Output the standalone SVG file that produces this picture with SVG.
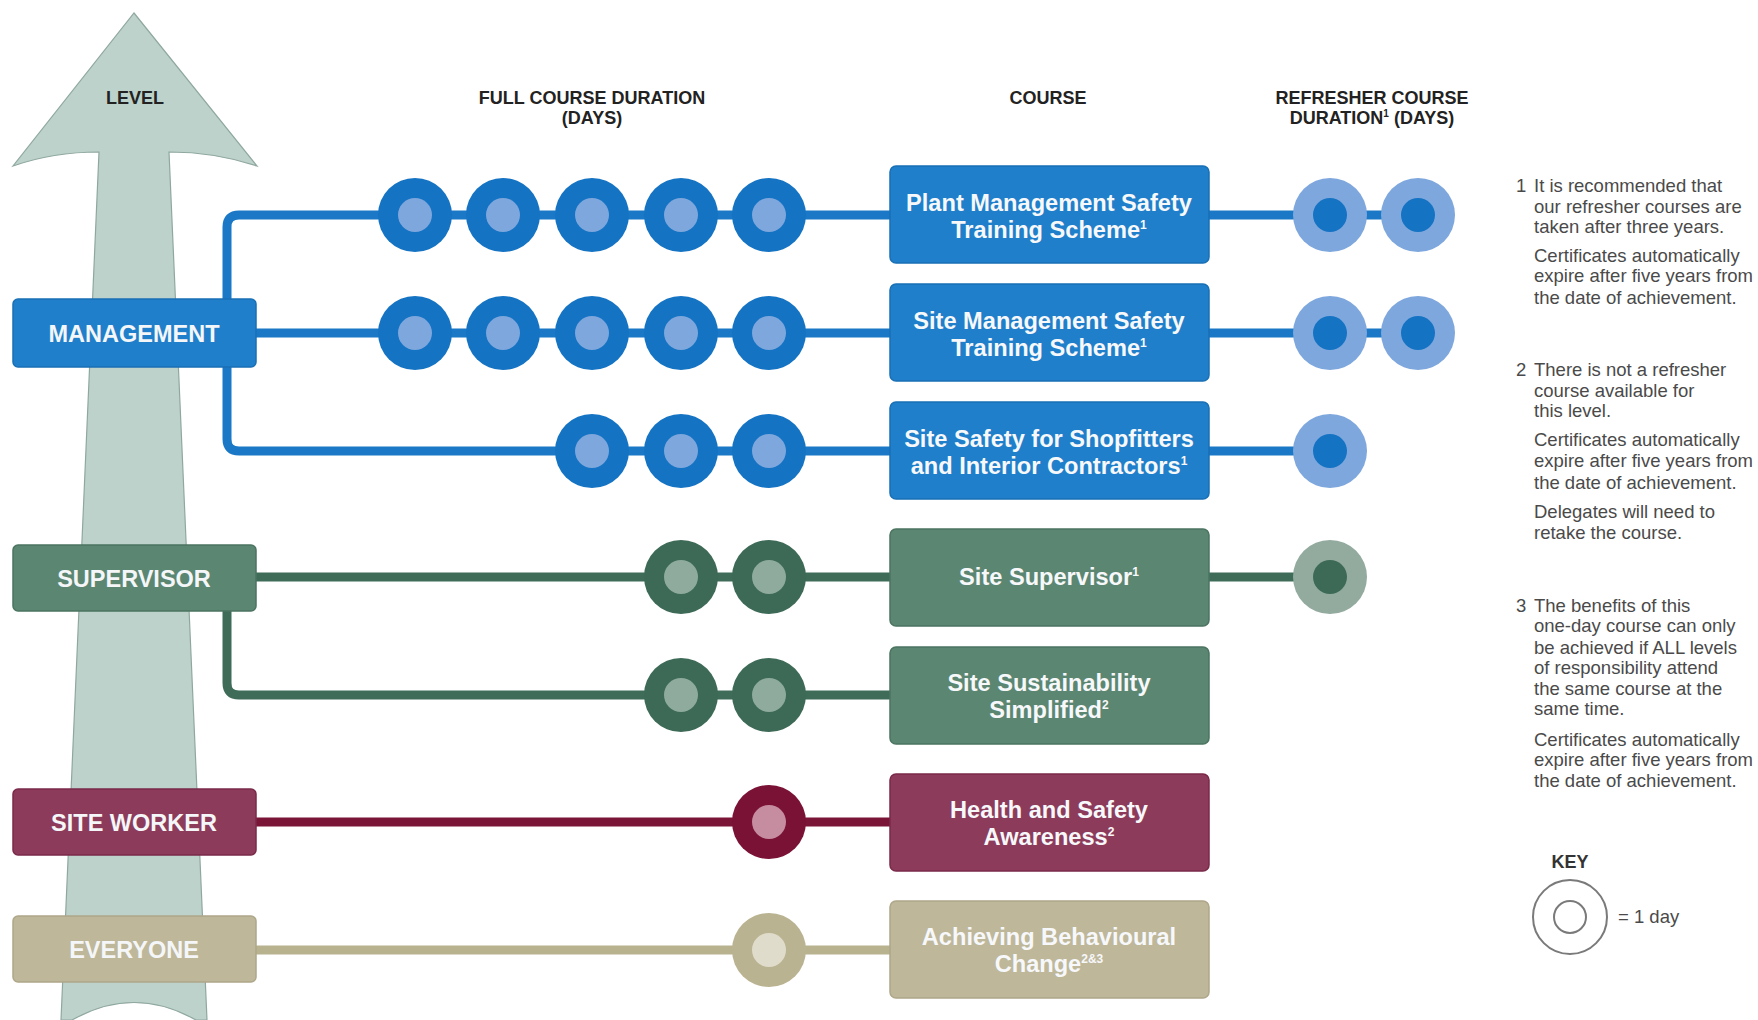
<svg xmlns="http://www.w3.org/2000/svg" xmlns:xlink="http://www.w3.org/1999/xlink" width="1758" height="1020" viewBox="0 0 1758 1020">
<style>
  text{font-family:"Liberation Sans",Arial,Helvetica,sans-serif}
  .hdr{font-weight:bold;font-size:18px;fill:#222;text-anchor:middle}
  .lvl{font-weight:bold;font-size:23.5px;fill:#f4f6f8;text-anchor:middle}
  .crs{font-weight:bold;font-size:23.6px;fill:#f7f8fa;text-anchor:middle}
  .sup{font-size:12px}
  .note{font-size:18.5px;fill:#4a4a4a}
  .key{font-weight:bold;font-size:18px;fill:#333;text-anchor:middle}
  .ln{fill:none;stroke-width:9;stroke-linejoin:round;stroke-linecap:butt}
  .blue{stroke:#1b78c6}
  .green{stroke:#3f6c58}
  .maroon{stroke:#7b1538}
  .beige{stroke:#b9b28f}
</style>
<defs>
  <g id="dBlue"><circle r="37" fill="#1573c3"/><circle r="17" fill="#7ea7dd"/></g>
  <g id="rBlue"><circle r="37" fill="#7ea7dd"/><circle r="17" fill="#1573c3"/></g>
  <g id="dGreen"><circle r="37" fill="#3d6a56"/><circle r="17" fill="#8eab9e"/></g>
  <g id="rGreen"><circle r="37" fill="#93ab9f"/><circle r="17" fill="#3d6a56"/></g>
  <g id="dMaroon"><circle r="37" fill="#7a1235"/><circle r="17" fill="#c68c9f"/></g>
  <g id="dBeige"><circle r="37" fill="#bab391"/><circle r="17" fill="#e0dccb"/></g>
</defs>
<rect width="1758" height="1020" fill="#ffffff"/>

<!-- level arrow -->
<g id="level-arrow">
  <path d="M134 13 L257 166 Q215 152 169 152 L207 1020 L196 1020 Q134 985 72 1020 L61 1020 L99 152 Q53 152 13 166 Z" fill="#bdd2ca" stroke="#8fa89f" stroke-width="1.2"/>
</g>

<!-- headers -->
<g id="headers">
  <text class="hdr" x="135" y="104">LEVEL</text>
  <text class="hdr" x="592" y="104">FULL COURSE DURATION</text>
  <text class="hdr" x="592" y="124">(DAYS)</text>
  <text class="hdr" x="1048" y="104">COURSE</text>
  <text class="hdr" x="1372" y="104">REFRESHER COURSE</text>
  <text class="hdr" x="1372" y="124">DURATION<tspan font-size="10" dy="-7">1</tspan><tspan dy="7"> (DAYS)</tspan></text>
</g>

<!-- connectors -->
<g id="connectors">
  <path class="ln blue" d="M1418 215 H239 Q227 215 227 227 V439 Q227 451 239 451 H1330"/>
  <path class="ln blue" d="M250 333 H1418"/>
  <path class="ln green" d="M250 577 H1330"/>
  <path class="ln green" d="M227 605 V683 Q227 695 239 695 H895"/>
  <path class="ln maroon" d="M250 822 H895"/>
  <path class="ln beige" d="M250 950 H895"/>
</g>

<!-- day markers -->
<g id="days-plant">
  <use xlink:href="#dBlue" x="415" y="215"/><use xlink:href="#dBlue" x="503" y="215"/><use xlink:href="#dBlue" x="592" y="215"/><use xlink:href="#dBlue" x="681" y="215"/><use xlink:href="#dBlue" x="769" y="215"/>
  <use xlink:href="#rBlue" x="1330" y="215"/><use xlink:href="#rBlue" x="1418" y="215"/>
</g>
<g id="days-sitemgmt">
  <use xlink:href="#dBlue" x="415" y="333"/><use xlink:href="#dBlue" x="503" y="333"/><use xlink:href="#dBlue" x="592" y="333"/><use xlink:href="#dBlue" x="681" y="333"/><use xlink:href="#dBlue" x="769" y="333"/>
  <use xlink:href="#rBlue" x="1330" y="333"/><use xlink:href="#rBlue" x="1418" y="333"/>
</g>
<g id="days-shopfitters">
  <use xlink:href="#dBlue" x="592" y="451"/><use xlink:href="#dBlue" x="681" y="451"/><use xlink:href="#dBlue" x="769" y="451"/>
  <use xlink:href="#rBlue" x="1330" y="451"/>
</g>
<g id="days-supervisor">
  <use xlink:href="#dGreen" x="681" y="577"/><use xlink:href="#dGreen" x="769" y="577"/>
  <use xlink:href="#rGreen" x="1330" y="577"/>
</g>
<g id="days-sustainability">
  <use xlink:href="#dGreen" x="681" y="695"/><use xlink:href="#dGreen" x="769" y="695"/>
</g>
<g id="days-hs">
  <use xlink:href="#dMaroon" x="769" y="822"/>
</g>
<g id="days-abc">
  <use xlink:href="#dBeige" x="769" y="950"/>
</g>

<!-- level boxes -->
<g id="lvl-management">
  <rect x="13" y="299" width="243" height="68" rx="5" fill="#1f7fca" stroke="#1a70b5" stroke-width="1.5"/>
  <text class="lvl" x="134" y="341.5">MANAGEMENT</text>
</g>
<g id="lvl-supervisor">
  <rect x="13" y="545" width="243" height="66" rx="5" fill="#5b8672" stroke="#4b7461" stroke-width="1.5"/>
  <text class="lvl" x="134" y="586.5">SUPERVISOR</text>
</g>
<g id="lvl-siteworker">
  <rect x="13" y="789" width="243" height="66" rx="5" fill="#8d3b5b" stroke="#7a2a49" stroke-width="1.5"/>
  <text class="lvl" x="134" y="830.5">SITE WORKER</text>
</g>
<g id="lvl-everyone">
  <rect x="13" y="916" width="243" height="66" rx="5" fill="#beb79a" stroke="#aea789" stroke-width="1.5"/>
  <text class="lvl" x="134" y="957.5" fill="#f6f3e8">EVERYONE</text>
</g>

<!-- course boxes -->
<g id="crs-plant">
  <rect x="890" y="166" width="319" height="97" rx="6" fill="#1f7fca" stroke="#1a70b5" stroke-width="1.5"/>
  <text class="crs" x="1049" y="211">Plant Management Safety</text>
  <text class="crs" x="1049" y="238">Training Scheme<tspan class="sup" dy="-9">1</tspan></text>
</g>
<g id="crs-sitemgmt">
  <rect x="890" y="284" width="319" height="97" rx="6" fill="#1f7fca" stroke="#1a70b5" stroke-width="1.5"/>
  <text class="crs" x="1049" y="329">Site Management Safety</text>
  <text class="crs" x="1049" y="356">Training Scheme<tspan class="sup" dy="-9">1</tspan></text>
</g>
<g id="crs-shopfitters">
  <rect x="890" y="402" width="319" height="97" rx="6" fill="#1f7fca" stroke="#1a70b5" stroke-width="1.5"/>
  <text class="crs" x="1049" y="447">Site Safety for Shopfitters</text>
  <text class="crs" x="1049" y="474">and Interior Contractors<tspan class="sup" dy="-9">1</tspan></text>
</g>
<g id="crs-supervisor">
  <rect x="890" y="529" width="319" height="97" rx="6" fill="#5b8672" stroke="#4b7461" stroke-width="1.5"/>
  <text class="crs" x="1049" y="585">Site Supervisor<tspan class="sup" dy="-9">1</tspan></text>
</g>
<g id="crs-sustainability">
  <rect x="890" y="647" width="319" height="97" rx="6" fill="#5b8672" stroke="#4b7461" stroke-width="1.5"/>
  <text class="crs" x="1049" y="691">Site Sustainability</text>
  <text class="crs" x="1049" y="718">Simplified<tspan class="sup" dy="-9">2</tspan></text>
</g>
<g id="crs-hs">
  <rect x="890" y="774" width="319" height="97" rx="6" fill="#8d3b5b" stroke="#7a2a49" stroke-width="1.5"/>
  <text class="crs" x="1049" y="818">Health and Safety</text>
  <text class="crs" x="1049" y="845">Awareness<tspan class="sup" dy="-9">2</tspan></text>
</g>
<g id="crs-abc">
  <rect x="890" y="901" width="319" height="97" rx="6" fill="#beb79a" stroke="#aea789" stroke-width="1.5"/>
  <text class="crs" x="1049" y="945" fill="#f6f3e8">Achieving Behavioural</text>
  <text class="crs" x="1049" y="972" fill="#f6f3e8">Change<tspan class="sup" dy="-9">2&amp;3</tspan></text>
</g>

<!-- notes -->
<g id="notes">
  <text class="note"><tspan x="1516" y="191.6">1</tspan><tspan x="1534" y="191.6">It is recommended that</tspan><tspan x="1534" y="212.9">our refresher courses are</tspan><tspan x="1534" y="233.1">taken after three years.</tspan><tspan x="1534" y="262.3">Certificates automatically</tspan><tspan x="1534" y="282.4">expire after five years from</tspan><tspan x="1534" y="303.7">the date of achievement.</tspan></text>
  <text class="note"><tspan x="1516" y="375.5">2</tspan><tspan x="1534" y="375.5">There is not a refresher</tspan><tspan x="1534" y="396.8">course available for</tspan><tspan x="1534" y="417">this level.</tspan><tspan x="1534" y="446.1">Certificates automatically</tspan><tspan x="1534" y="467.4">expire after five years from</tspan><tspan x="1534" y="488.7">the date of achievement.</tspan><tspan x="1534" y="517.9">Delegates will need to</tspan><tspan x="1534" y="539.2">retake the course.</tspan></text>
  <text class="note"><tspan x="1516" y="612.1">3</tspan><tspan x="1534" y="612.1">The benefits of this</tspan><tspan x="1534" y="632.3">one-day course can only</tspan><tspan x="1534" y="653.5">be achieved if ALL levels</tspan><tspan x="1534" y="673.7">of responsibility attend</tspan><tspan x="1534" y="695">the same course at the</tspan><tspan x="1534" y="715.2">same time.</tspan><tspan x="1534" y="745.5">Certificates automatically</tspan><tspan x="1534" y="765.7">expire after five years from</tspan><tspan x="1534" y="787">the date of achievement.</tspan></text>
</g>

<!-- key -->
<g id="key">
  <text class="key" x="1570" y="867.5">KEY</text>
  <circle cx="1570" cy="917" r="37" fill="none" stroke="#7a7a7a" stroke-width="2"/>
  <circle cx="1570" cy="917" r="16" fill="none" stroke="#7a7a7a" stroke-width="2"/>
  <text class="note" x="1618" y="923">= 1 day</text>
</g>
</svg>
